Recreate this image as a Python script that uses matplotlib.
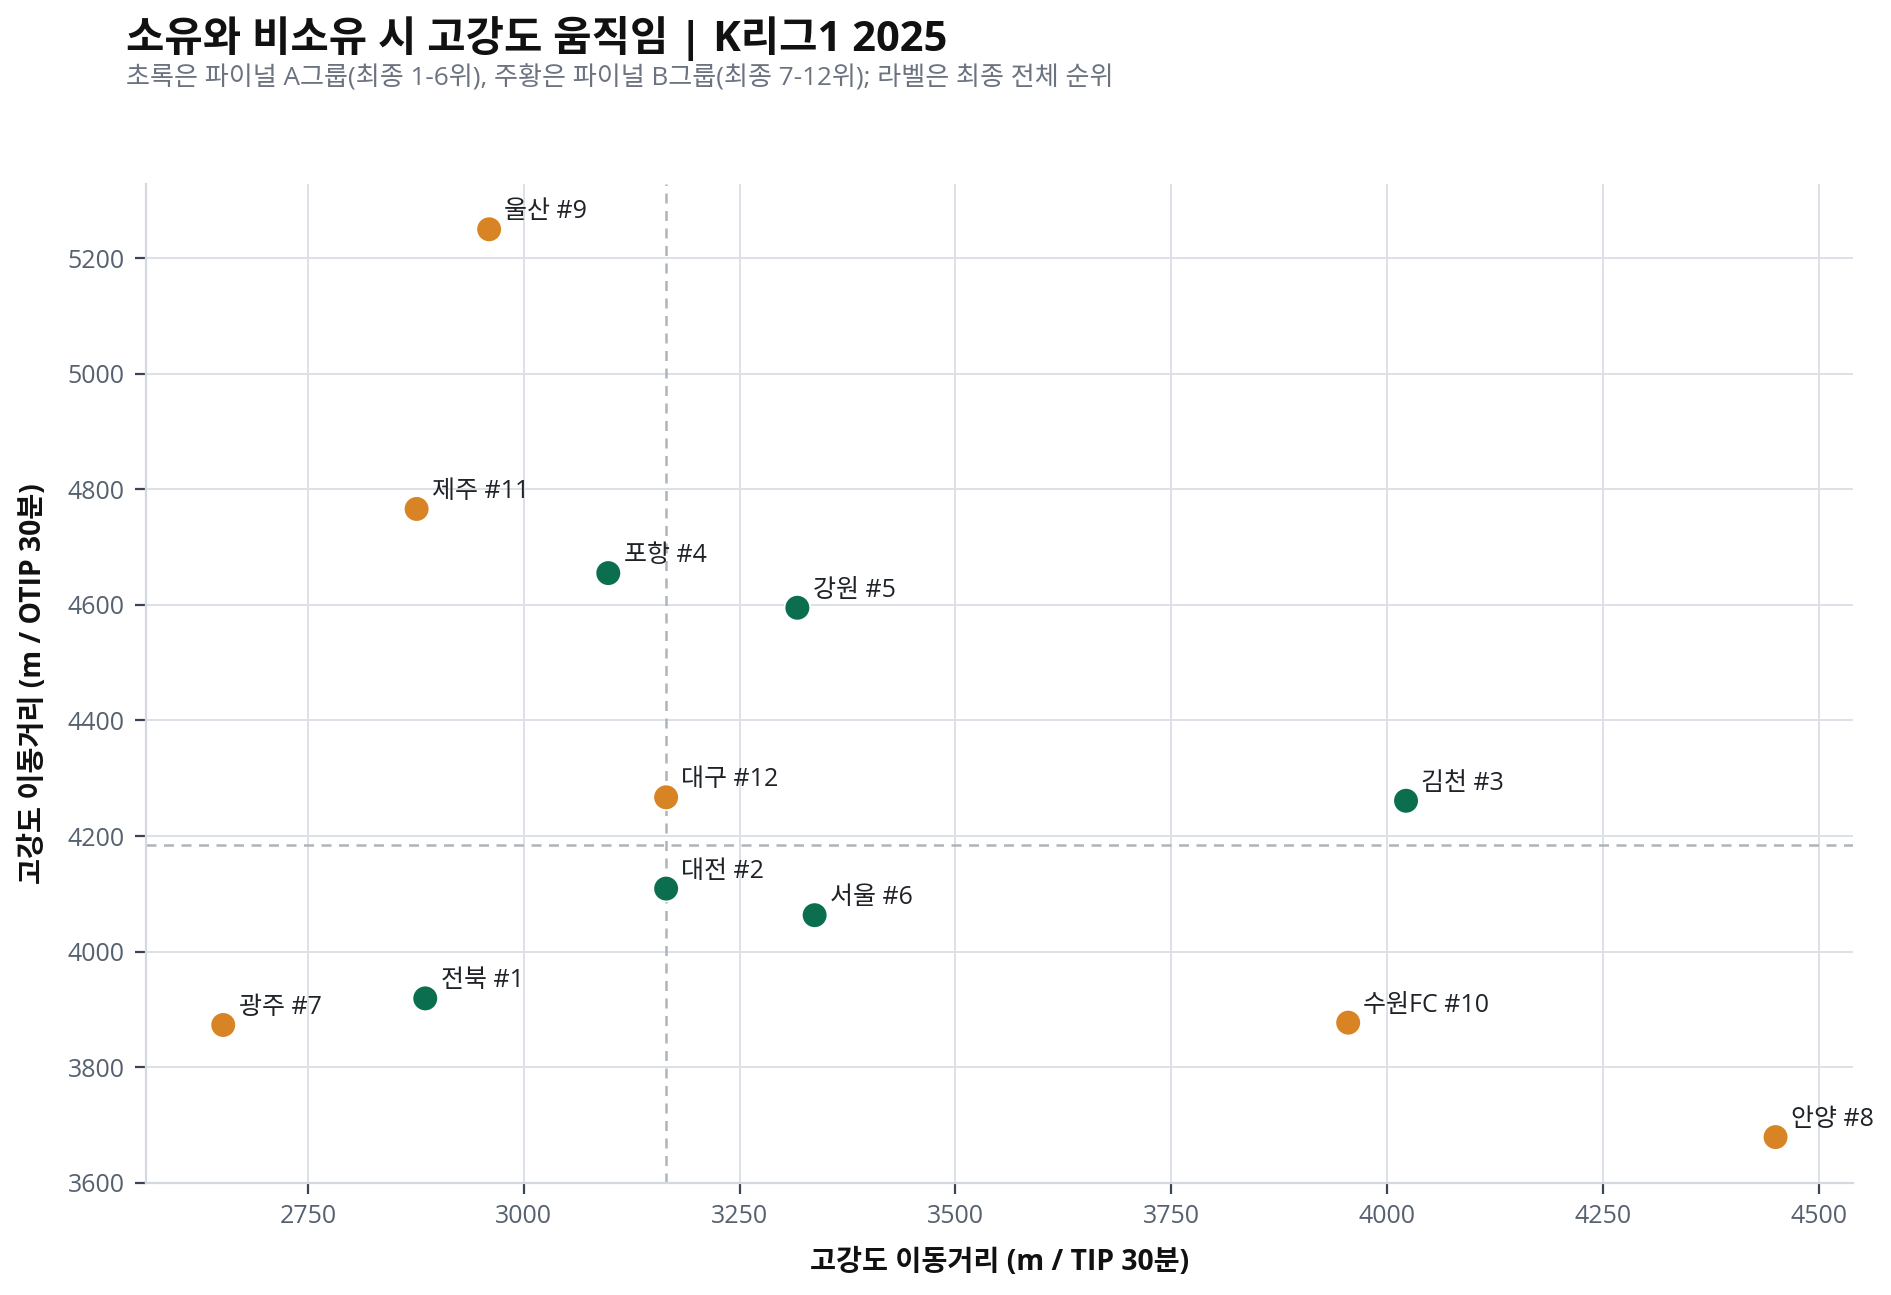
import numpy as np
import matplotlib
matplotlib.use("Agg")
import matplotlib.pyplot as plt

plt.rcParams['font.family'] = ['Open Sans', 'Noto Sans CJK KR', 'DejaVu Sans']

teams = ["울산", "제주", "포항", "강원", "대구", "김천", "대전", "서울", "전북", "광주", "수원FC", "안양"]
ranks = [9, 11, 4, 5, 12, 3, 2, 6, 1, 7, 10, 8]
tip_dist = [2960, 2876, 3098, 3317, 3165, 4022, 3165, 3337, 2886, 2652, 3955, 4450]
otip_dist = [5250, 4766, 4655, 4595, 4267, 4261, 4109, 4063, 3919, 3873, 3877, 3679]

GREEN = "#0b6e4f"
ORANGE = "#d98424"

fig = plt.figure(figsize=(18.91 / 2, 12.95 / 2), dpi=200)
ax = fig.add_axes([0.077, 0.0867, 0.903, 0.7713])

x = np.array(tip_dist, dtype=float)
y = np.array(otip_dist, dtype=float)
colors = [GREEN if r <= 6 else ORANGE for r in ranks]

ax.scatter(x, y, s=85, c=colors, edgecolors="white", linewidths=0.6, zorder=3)

ax.axvline(np.median(x), color="#aeb4bd", linestyle=(0, (4, 3)), linewidth=0.9, zorder=2)
ax.axhline(np.median(y), color="#aeb4bd", linestyle=(0, (4, 3)), linewidth=0.9, zorder=2)

for xi, yi, t, r in zip(x, y, teams, ranks):
    ax.annotate(f"{t} #{r}", (xi, yi), xytext=(5.5, 1.8), textcoords="offset points",
                ha="left", va="bottom", fontsize=9, color="#1f2328", zorder=4)

ax.grid(True, color="#dde1e7", linewidth=0.7, zorder=0)
ax.set_axisbelow(True)
for s in ["top", "right"]:
    ax.spines[s].set_visible(False)
for s in ["left", "bottom"]:
    ax.spines[s].set_color("#d4d8df")
    ax.spines[s].set_linewidth(0.8)
ax.tick_params(axis="both", colors="#3b4452", labelcolor="#566170", labelsize=9, length=4, width=0.8)
ax.set_xticks([2750, 3000, 3250, 3500, 3750, 4000, 4250, 4500])
ax.set_yticks([3600, 3800, 4000, 4200, 4400, 4600, 4800, 5000, 5200])

ax.set_xlabel("고강도 이동거리 (m / TIP 30분)", fontsize=10.2, fontweight="bold", color="#111111", labelpad=7)
ax.set_ylabel("고강도 이동거리 (m / OTIP 30분)", fontsize=10.2, fontweight="bold", color="#111111", labelpad=7)

fig.text(0.0668, 0.988, "소유와 비소유 시 고강도 움직임 | K리그1 2025", fontsize=15, fontweight="bold",
         color="#111111", ha="left", va="top")
fig.text(0.0668, 0.9495, "초록은 파이널 A그룹(최종 1-6위), 주황은 파이널 B그룹(최종 7-12위); 라벨은 최종 전체 순위",
         fontsize=9.4, color="#6b7280", ha="left", va="top")

fig.savefig("out.png", dpi=200)
